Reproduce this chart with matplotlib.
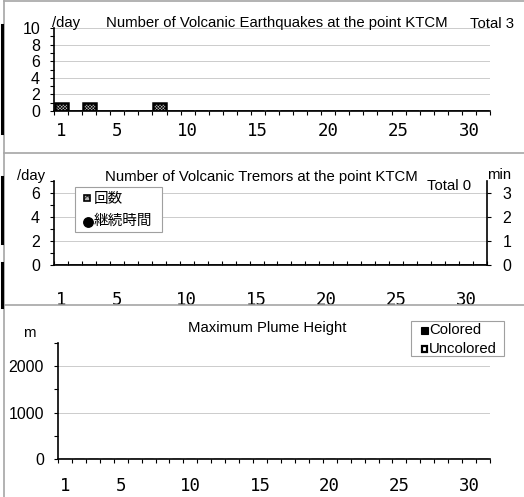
import matplotlib
matplotlib.use("Agg")
import matplotlib.pyplot as plt
from matplotlib.lines import Line2D
from matplotlib.ticker import MultipleLocator, FixedLocator

plt.rcParams['font.family'] = ['Liberation Sans', 'Noto Sans CJK JP', 'DejaVu Sans']
plt.rcParams['hatch.linewidth'] = 0.5

# data (one value per day of the month)
days = list(range(1, 32))
day_labels = [1, 5, 10, 15, 20, 25, 30]
quake_counts = [1, 0, 1, 0, 0, 0, 0, 1, 0, 0, 0, 0, 0, 0, 0, 0,
                0, 0, 0, 0, 0, 0, 0, 0, 0, 0, 0, 0, 0, 0, 0]
tremor_counts = [0, 0, 0, 0, 0, 0, 0, 0, 0, 0, 0, 0, 0, 0, 0, 0,
                 0, 0, 0, 0, 0, 0, 0, 0, 0, 0, 0, 0, 0, 0, 0]
tremor_minutes = [0, 0, 0, 0, 0, 0, 0, 0, 0, 0, 0, 0, 0, 0, 0, 0,
                  0, 0, 0, 0, 0, 0, 0, 0, 0, 0, 0, 0, 0, 0, 0]
plume_colored = [0, 0, 0, 0, 0, 0, 0, 0, 0, 0, 0, 0, 0, 0, 0, 0,
                 0, 0, 0, 0, 0, 0, 0, 0, 0, 0, 0, 0, 0, 0, 0]
plume_uncolored = [0, 0, 0, 0, 0, 0, 0, 0, 0, 0, 0, 0, 0, 0, 0, 0,
                   0, 0, 0, 0, 0, 0, 0, 0, 0, 0, 0, 0, 0, 0, 0]

W, H = 524, 497
fig = plt.figure(figsize=(W / 100, H / 100), dpi=100)

bar_face = '#b4b4b4'
bar_hatch = 'xxxxxxxxxx'


def fx(x):
    return x / W


def fy(y):
    return 1 - y / H


def axrect(l, t, r, b):
    return [l / W, 1 - b / H, (r - l) / W, (b - t) / H]


def ftext(x, y, s, **kw):
    kw.setdefault('fontsize', 10.7)
    kw.setdefault('va', 'baseline')
    fig.text(fx(x), fy(y), s, **kw)


def fbox(l, t, r, b, **kw):
    fig.add_artist(plt.Rectangle((fx(l), fy(b)), fx(r) - fx(l), fy(t) - fy(b), **kw))


def style_day_axis(ax, tickdir, pad):
    ax.set_xlim(0.5, 31.5)
    ax.xaxis.set_major_locator(FixedLocator(day_labels))
    ax.xaxis.set_minor_locator(FixedLocator([d - 0.5 for d in days] + [31.5]))
    ax.tick_params(axis='x', which='major', length=0, pad=pad)
    ax.tick_params(axis='x', which='minor', length=3, width=0.8, direction=tickdir)
    for lab in ax.get_xticklabels():
        lab.set_fontfamily('DejaVu Sans Mono')
        lab.set_fontsize(12.5)
    ax.spines['top'].set_visible(False)
    ax.spines['right'].set_visible(False)
    ax.spines['left'].set_linewidth(1.2)
    ax.spines['bottom'].set_linewidth(1.2)
    ax.tick_params(axis='y', which='both', direction='out', width=0.8, labelsize=11.5, pad=7)
    ax.tick_params(axis='y', which='major', length=3)
    ax.tick_params(axis='y', which='minor', length=3)
    ax.grid(axis='y', which='major', color='#cccccc', linewidth=0.7)
    ax.set_axisbelow(True)


# panel frames
grey = '#a6a6a6'
for y in [1, 153, 305]:
    fig.add_artist(Line2D([fx(4), 1], [fy(y), fy(y)], color=grey, lw=1.2))
fig.add_artist(Line2D([fx(4), fx(4)], [fy(1), 0], color=grey, lw=1.2))
# black strips along the left edge
for t, b in [(25, 133), (177, 243), (263, 307)]:
    fig.add_artist(Line2D([fx(1.5), fx(1.5)], [fy(t), fy(b)], color='black', lw=2.2))

# ---- panel 1: volcanic earthquakes
ax1 = fig.add_axes(axrect(54, 28, 490, 111))
ax1.bar(days, quake_counts, width=0.92, color=bar_face, edgecolor='black',
        linewidth=1.8, hatch=bar_hatch)
ax1.set_ylim(0, 10)
ax1.yaxis.set_major_locator(MultipleLocator(2))
ax1.yaxis.set_minor_locator(MultipleLocator(1))
style_day_axis(ax1, 'out', 8)
ftext(52, 26.5, '/day')
ftext(106, 27.5, 'Number of Volcanic Earthquakes at the point KTCM')
ftext(470, 27.5, 'Total %d' % sum(quake_counts))

# ---- panel 2: volcanic tremors
ax2 = fig.add_axes(axrect(54, 181, 487, 265))
ax2.bar(days, tremor_counts, width=0.92, color=bar_face, edgecolor='black',
        linewidth=1.8, hatch=bar_hatch)
ax2.set_ylim(0, 7)
ax2.yaxis.set_major_locator(MultipleLocator(2))
ax2.yaxis.set_minor_locator(MultipleLocator(1))
style_day_axis(ax2, 'in', 19)
ax2r = ax2.twinx()
ax2r.plot([d for d, v in zip(days, tremor_minutes) if v > 0],
          [v for v in tremor_minutes if v > 0], 'o', color='black')
ax2r.set_ylim(0, 3.5)
ax2r.yaxis.set_major_locator(MultipleLocator(1))
ax2r.tick_params(axis='y', direction='out', length=3, width=0.8, labelsize=11.5, pad=8)
for s in ['top', 'left', 'bottom']:
    ax2r.spines[s].set_visible(False)
ax2r.spines['right'].set_linewidth(1.2)
ftext(17, 180, '/day')
ftext(105, 181, 'Number of Volcanic Tremors at the point KTCM')
ftext(427, 190, 'Total %d' % sum(tremor_counts))
ftext(487, 179, 'min')
fbox(75, 187, 162, 232, facecolor='white', edgecolor='#a0a0a0', lw=0.8)
fbox(84, 195, 90, 201, facecolor=bar_face, edgecolor='black', lw=1.2, hatch='xxxx')
ftext(94, 203.5, '回数', fontsize=10.5, family=['Noto Sans CJK JP'])
fig.add_artist(Line2D([fx(88)], [fy(221.5)], marker='o', markersize=6.8,
                      color='black', linestyle='none'))
ftext(94, 225, '継続時間', fontsize=10.5, family=['Noto Sans CJK JP'])

# ---- panel 3: plume height
ax3 = fig.add_axes(axrect(58, 343, 490, 459))
ax3.bar(days, plume_colored, width=0.7, color='black')
ax3.bar(days, plume_uncolored, bottom=plume_colored, width=0.7, color='white', edgecolor='black')
ax3.set_ylim(0, 2500)
ax3.yaxis.set_major_locator(MultipleLocator(1000))
ax3.yaxis.set_minor_locator(MultipleLocator(500))
style_day_axis(ax3, 'out', 13)
ftext(188, 332, 'Maximum Plume Height')
ftext(23, 337, 'm')
fbox(411, 321, 504, 356, facecolor='white', edgecolor='#a0a0a0', lw=0.8)
fbox(421, 327, 428, 334, facecolor='black', edgecolor='black', lw=0.8)
ftext(429, 334.5, 'Colored')
fbox(421.8, 345.8, 427.2, 352.2, facecolor='white', edgecolor='black', lw=1.6)
ftext(429, 353, 'Uncolored')

fig.savefig('out.png', dpi=100)
